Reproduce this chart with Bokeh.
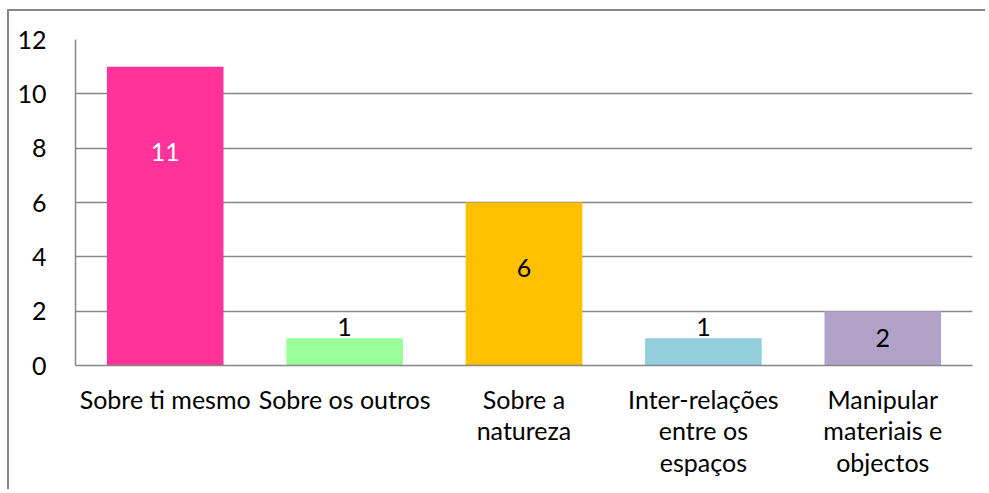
from bokeh.plotting import figure
from bokeh.models import ColumnDataSource, FactorRange, SingleIntervalTicker
from bokeh.embed import file_html
from bokeh.resources import INLINE
from bokeh.core.properties import value

categories = ["Sobre ti mesmo", "Sobre os outros", "Sobre a\nnatureza",
              "Inter-relações\nentre os\nespaços", "Manipular\nmateriais e\nobjectos"]
counts = [11, 1, 6, 1, 2]
colors = ["#FF3399", "#99FF99", "#FFC000", "#92CDDC", "#B2A2C7"]
label_text = ["11", "1", "6", "1", "2"]
label_y = [7.85, 1.42, 3.6, 1.42, 1.0]
label_color = ["white", "black", "black", "black", "black"]

src = ColumnDataSource(dict(cat=categories, val=counts, color=colors,
                            lt=label_text, ly=label_y, lc=label_color))

FONT = "Lato"
GRID = "#878787"

p = figure(x_range=FactorRange(*categories, range_padding=0), y_range=(0, 12),
           width=978, height=480, output_backend="svg", toolbar_location=None,
           min_border_left=66, min_border_top=28, min_border_right=15, min_border_bottom=126)
p.styles = {"border-left": "2px solid #888888", "border-top": "2px solid #888888",
            "margin-left": "7px", "margin-top": "9px"}

p.vbar(x="cat", top="val", width=0.65, color="color", line_color=None, source=src)
p.text(x="cat", y="ly", text="lt", text_baseline="middle", text_align="center",
       text_color="lc", text_font=value(FONT), text_font_size="25px", source=src)

p.outline_line_color = None
p.xgrid.grid_line_color = None
p.ygrid.grid_line_color = GRID
p.ygrid.grid_line_width = 1.5
p.yaxis.ticker = SingleIntervalTicker(interval=2)
for ax in (p.xaxis, p.yaxis):
    ax.axis_line_color = GRID
    ax.axis_line_width = 1.5
    ax.major_tick_line_color = None
    ax.minor_tick_line_color = None
    ax.major_label_text_font = FONT
    ax.major_label_text_font_size = "25px"
    ax.major_label_text_color = "black"
p.xaxis.major_label_text_line_height = 1.05
p.yaxis.major_label_standoff = 23
p.xaxis.major_label_standoff = 12

open("out.html", "w").write(file_html(p, INLINE))
